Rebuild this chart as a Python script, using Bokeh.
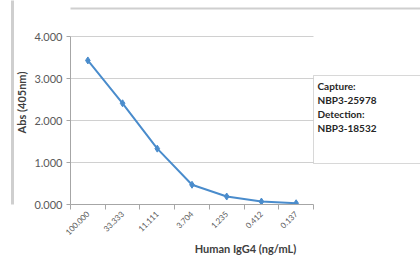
from bokeh.plotting import figure
from bokeh.models import FixedTicker, BoxAnnotation, Label, Range1d, NumeralTickFormatter, LinearAxis
from bokeh.embed import file_html
from bokeh.resources import INLINE
import math

categories = ["100.000", "33.333", "11.111", "3.704", "1.235", "0.412", "0.137"]
abs_values = [3.43, 2.41, 1.33, 0.47, 0.19, 0.07, 0.03]
y_ticks = [0, 1, 2, 3, 4]
box_lines = ["Capture:", "NBP3-25978", "Detection:", "NBP3-18532"]

FONT = "Lato"
GRAY_TXT = "#595959"
BLUE = "#4a8ccc"
AXIS_GRAY = "#a6a6a6"

W, H = 420, 257
PX_X = 243 / 7.0   # px per category
PX_Y = 168 / 4.0   # px per unit
LEFT, BOTTOM = 70, 53
frame_w = W - LEFT
frame_h = H - BOTTOM
x_end = frame_w / PX_X
y_top = frame_h / PX_Y

p = figure(width=W, height=H, output_backend="svg", toolbar_location=None,
           x_range=Range1d(0, x_end), y_range=Range1d(0, y_top))
p.min_border_left = LEFT
p.min_border_right = 0
p.min_border_top = 0
p.min_border_bottom = BOTTOM
p.outline_line_color = None
p.background_fill_color = "white"
p.border_fill_color = "white"

n = len(categories)
xs = [i + 0.5 for i in range(n)]

# horizontal gridlines limited to the category span
p.segment(x0=[0] * len(y_ticks[1:]), x1=[n] * len(y_ticks[1:]), y0=y_ticks[1:], y1=y_ticks[1:],
          line_color="#d0d0d0", line_width=1)

p.line(xs, abs_values, line_color=BLUE, line_width=2)
p.scatter(xs, abs_values, marker="diamond", size=7, fill_color=BLUE, line_color=BLUE)

# x axis
xa = p.xaxis[0]
xa.bounds = (0, n)
xa.ticker = FixedTicker(ticks=xs, minor_ticks=list(range(n + 1)))
xa.major_label_overrides = {x: c for x, c in zip(xs, categories)}
xa.major_tick_line_color = None
xa.major_tick_out = 5
xa.major_tick_in = 0
xa.minor_tick_line_color = AXIS_GRAY
xa.minor_tick_out = 5
xa.minor_tick_in = 0
xa.axis_line_color = AXIS_GRAY
xa.major_label_orientation = math.pi / 4
xa.major_label_text_font = FONT
xa.major_label_text_font_size = "8px"
xa.major_label_text_color = GRAY_TXT
xa.major_label_standoff = 3
xa.axis_label = "Human IgG4 (ng/mL)"
xa.axis_label_text_font = FONT
xa.axis_label_text_font_style = "bold"
xa.axis_label_text_font_size = "11px"
xa.axis_label_text_color = "#404040"
xa.axis_label_standoff = 1

ya = p.yaxis[0]
ya.bounds = (0, 4)
ya.ticker = FixedTicker(ticks=y_ticks, minor_ticks=[])
ya.formatter = NumeralTickFormatter(format="0.000")
ya.major_tick_line_color = AXIS_GRAY
ya.major_tick_out = 4
ya.major_tick_in = 0
ya.axis_line_color = AXIS_GRAY
ya.major_label_text_font = FONT
ya.major_label_text_font_size = "11px"
ya.major_label_text_color = GRAY_TXT
ya.major_label_standoff = 4
ya.axis_label = "Abs (405nm)"
ya.axis_label_text_font = FONT
ya.axis_label_text_font_style = "bold"
ya.axis_label_text_font_size = "11px"
ya.axis_label_text_color = "#404040"
ya.axis_label_standoff = 3

p.xgrid.grid_line_color = None
p.ygrid.grid_line_color = None

# text box to the right of the chart
box_top = y_top - 75 / PX_Y
box_bottom = y_top - 163 / PX_Y
p.add_layout(BoxAnnotation(left=n, right=x_end + 1, top=box_top, bottom=box_bottom,
                           fill_color="white", fill_alpha=1.0,
                           line_color="#7f7f7f", line_width=1))
for i, t in enumerate(box_lines):
    p.add_layout(Label(x=n, y=box_top, x_offset=4, y_offset=-4 - 14 * i, text=t,
                       text_font=FONT, text_font_style="bold", text_font_size="10px",
                       text_color="#262626", text_baseline="top"))

# page decorations: top rule and left bar
p.add_layout(BoxAnnotation(left=-3, right=x_end + 1, top=y_top - 7 / PX_Y, bottom=y_top - 9 / PX_Y,
                           fill_color="#cfcfcf", fill_alpha=1.0, line_color=None))
deco = LinearAxis(ticker=FixedTicker(ticks=[]), axis_line_color="#cfcfcf", axis_line_width=3,
                  major_tick_line_color=None, minor_tick_line_color=None,
                  major_label_text_font_size="0px")
p.add_layout(deco, "left")

open("out.html", "w").write(file_html(p, INLINE))
